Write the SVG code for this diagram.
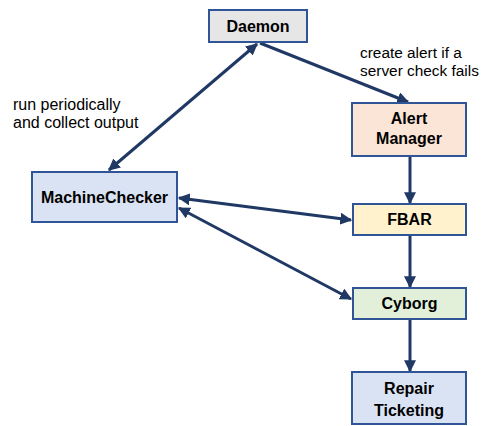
<svg xmlns="http://www.w3.org/2000/svg" width="483" height="426" viewBox="0 0 483 426">
  <defs>
    <marker id="head" viewBox="0 0 10 10" refX="9" refY="5" markerWidth="4" markerHeight="4" orient="auto-start-reverse" markerUnits="strokeWidth">
      <path d="M0,0 L10,5 L0,10 Z" fill="#203864"/>
    </marker>
    <style>
      .box { stroke: #2F5597; stroke-width: 2; }
      .lbl { font-family: "Liberation Sans", Arial, sans-serif; font-weight: bold; font-size: 16px; fill: #000; text-anchor: middle; }
      .note { font-family: "Liberation Sans", Arial, sans-serif; font-size: 16px; fill: #000; }
      .note.right { font-size: 15.4px; }
      .edge { stroke: #203864; stroke-width: 3; fill: none; }
    </style>
  </defs>
  <rect width="483" height="426" fill="#fff"/>

  <g id="connectors">
    <line class="edge" x1="257" y1="44" x2="109" y2="170" marker-start="url(#head)" marker-end="url(#head)"/>
    <line class="edge" x1="260" y1="43" x2="408" y2="102" marker-end="url(#head)"/>
    <line class="edge" x1="410" y1="157" x2="410" y2="203" marker-end="url(#head)"/>
    <line class="edge" x1="410" y1="236" x2="410" y2="287" marker-end="url(#head)"/>
    <line class="edge" x1="410" y1="320" x2="410" y2="371" marker-end="url(#head)"/>
    <line class="edge" x1="179" y1="198" x2="351" y2="220" marker-start="url(#head)" marker-end="url(#head)"/>
    <line class="edge" x1="179" y1="208" x2="351" y2="299" marker-start="url(#head)" marker-end="url(#head)"/>
  </g>

  <g id="daemon">
    <rect class="box" x="209" y="10" width="98" height="32" fill="#E7E6E6"/>
    <text class="lbl" x="258" y="32">Daemon</text>
  </g>

  <g id="alert-manager">
    <rect class="box" x="352" y="103" width="114" height="53" fill="#FBE5D6"/>
    <text class="lbl" x="409" y="124">Alert</text>
    <text class="lbl" x="409" y="144">Manager</text>
  </g>

  <g id="machine-checker">
    <rect class="box" x="32" y="172" width="145" height="50" fill="#DAE3F3"/>
    <text class="lbl" x="104.5" y="203">MachineChecker</text>
  </g>

  <g id="fbar">
    <rect class="box" x="353" y="204" width="113" height="31" fill="#FFF2CC"/>
    <text class="lbl" x="409.5" y="225">FBAR</text>
  </g>

  <g id="cyborg">
    <rect class="box" x="353" y="288" width="113" height="31" fill="#E2F0D9"/>
    <text class="lbl" x="409.5" y="309">Cyborg</text>
  </g>

  <g id="repair-ticketing">
    <rect class="box" x="352" y="372" width="114" height="52" fill="#DAE3F3"/>
    <text class="lbl" x="409" y="394">Repair</text>
    <text class="lbl" x="409" y="416">Ticketing</text>
  </g>

  <g id="notes">
    <text class="note" x="13" y="110">run periodically</text>
    <text class="note" x="13" y="128">and collect output</text>
    <text class="note right" x="360" y="58">create alert if a</text>
    <text class="note right" x="360" y="76">server check fails</text>
  </g>
</svg>
